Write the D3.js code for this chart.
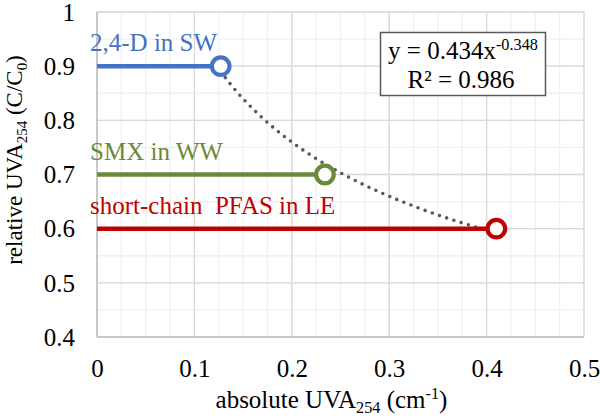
<!DOCTYPE html>
<html>
<head>
<meta charset="utf-8">
<script src="https://cdn.jsdelivr.net/npm/d3@7"></script>
<style>
  html, body { margin: 0; padding: 0; background: #fff; }
  svg text { font-family: "Liberation Serif", "Times New Roman", "DejaVu Serif", serif !important; }
</style>
</head>
<body>
<svg id="chart" width="600" height="419"></svg>
<script>
// ---- data ----
const seriesNames = ["2,4-D in SW", "SMX in WW", "short-chain\u00a0 PFAS in LE"];
const seriesX = [0.127, 0.234, 0.410];
const seriesY = [0.9, 0.7, 0.6];
const seriesColors = ["#4472C4", "#6A8A3A", "#C00000"];
const xTicks = [0, 0.1, 0.2, 0.3, 0.4, 0.5];
const yTicks = [0.4, 0.5, 0.6, 0.7, 0.8, 0.9, 1];
const fitA = 0.434, fitB = -0.348, fitR2 = 0.986;

(function () {
// ---- layout ----
const svg = d3.select("#chart");
const pL = 97, pR = 584, pT = 12, pB = 337;
const x = d3.scaleLinear().domain([0, 0.5]).range([pL, pR]);
const y = d3.scaleLinear().domain([0.4, 1]).range([pB, pT]);
const fs = 25;

// minor grid
const g = svg.append("g");
g.selectAll(".mx").data(d3.range(0, 0.5001, 0.025)).join("line")
  .attr("x1", d => x(d)).attr("x2", d => x(d)).attr("y1", pT).attr("y2", pB)
  .attr("stroke", "#f0f0f0").attr("stroke-width", 1.3);
g.selectAll(".my").data(d3.range(0.4, 1.0001, 0.05)).join("line")
  .attr("y1", d => y(d)).attr("y2", d => y(d)).attr("x1", pL).attr("x2", pR)
  .attr("stroke", "#f0f0f0").attr("stroke-width", 1.3);
// major grid
g.selectAll(".Mx").data(xTicks).join("line")
  .attr("x1", d => x(d)).attr("x2", d => x(d)).attr("y1", pT).attr("y2", pB)
  .attr("stroke", "#d9d9d9").attr("stroke-width", 1.3);
g.selectAll(".My").data(yTicks).join("line")
  .attr("y1", d => y(d)).attr("y2", d => y(d)).attr("x1", pL).attr("x2", pR)
  .attr("stroke", "#d9d9d9").attr("stroke-width", 1.3);
// axis lines
g.append("line").attr("x1", pL).attr("x2", pR).attr("y1", pB).attr("y2", pB)
  .attr("stroke", "#bfbfbf").attr("stroke-width", 1.5);
g.append("line").attr("x1", pL).attr("x2", pL).attr("y1", pT).attr("y2", pB)
  .attr("stroke", "#bfbfbf").attr("stroke-width", 1.5);

// axes (tick labels via d3 axis)
const xAxis = svg.append("g").attr("transform", `translate(0,${pB})`)
  .call(d3.axisBottom(x).tickValues(xTicks).tickSize(0).tickPadding(0).tickFormat(d3.format("~g")));
xAxis.select(".domain").remove();
xAxis.attr("font-family", null);
xAxis.selectAll("text").attr("font-size", fs)
  .attr("fill", "#000").attr("y", 40).attr("dy", 0);

const yAxis = svg.append("g").attr("transform", `translate(${pL},0)`)
  .call(d3.axisLeft(y).tickValues(yTicks).tickSize(0).tickPadding(22).tickFormat(d3.format("~g")));
yAxis.select(".domain").remove();
yAxis.attr("font-family", null);
yAxis.selectAll("text").attr("font-size", fs)
  .attr("fill", "#000").attr("dy", "0.33em");

// axis titles
const xt = svg.append("text").attr("x", x(0.25) - 9).attr("y", 408)
  .attr("text-anchor", "middle").attr("font-size", fs).attr("fill", "#000");
xt.append("tspan").text("absolute UVA");
xt.append("tspan").text("254").attr("font-size", fs * 0.65).attr("dy", 5);
xt.append("tspan").text(" (cm").attr("dy", -5);
xt.append("tspan").text("-1").attr("font-size", fs * 0.65).attr("dy", -9);
xt.append("tspan").text(")").attr("dy", 9);

const yfs = 23;
const yt = svg.append("text").attr("transform", `translate(22,160) rotate(-90)`)
  .attr("text-anchor", "middle").attr("font-size", yfs).attr("fill", "#000");
yt.append("tspan").text("relative UVA");
yt.append("tspan").text("254").attr("font-size", yfs * 0.65).attr("dy", 5);
yt.append("tspan").text(" (C/C").attr("dy", -5);
yt.append("tspan").text("0").attr("font-size", yfs * 0.65).attr("dy", 5);
yt.append("tspan").text(")").attr("dy", -5);

// trendline (power fit y = a x^b) over data range
const x0 = d3.min(seriesX), x1 = d3.max(seriesX);
const xs = d3.range(0, 101).map(i => x0 + (x1 - x0) * i / 100);
svg.append("path")
  .attr("d", d3.line().x(d => x(d)).y(d => y(fitA * Math.pow(d, fitB)))(xs))
  .attr("fill", "none").attr("stroke", "#595959").attr("stroke-width", 3.6)
  .attr("stroke-linecap", "round").attr("stroke-dasharray", "0 7.6");

// series lines
seriesNames.forEach((name, i) => {
  svg.append("line").attr("x1", x(0)).attr("x2", x(seriesX[i]))
    .attr("y1", y(seriesY[i])).attr("y2", y(seriesY[i]))
    .attr("stroke", seriesColors[i]).attr("stroke-width", 4.5);
});
seriesNames.forEach((name, i) => {
  svg.append("circle").attr("cx", x(seriesX[i])).attr("cy", y(seriesY[i])).attr("r", 8.8)
    .attr("fill", "#fff").attr("stroke", seriesColors[i]).attr("stroke-width", 4.2);
  svg.append("text").attr("x", 90).attr("y", y(seriesY[i]) - 15)
    .attr("font-size", fs).attr("fill", seriesColors[i]).text(name);
});

// equation box
svg.append("rect").attr("x", 380.5).attr("y", 32.5).attr("width", 165).attr("height", 63)
  .attr("fill", "#fff").attr("stroke", "#595959").attr("stroke-width", 1.5);
const eq = svg.append("text").attr("x", 463).attr("y", 59).attr("text-anchor", "middle")
  .attr("font-size", fs).attr("fill", "#000");
eq.append("tspan").text(`y = ${fitA}x`);
eq.append("tspan").text(`${fitB}`).attr("font-size", fs * 0.65).attr("dy", -9);
svg.append("text").attr("x", 461).attr("y", 88).attr("text-anchor", "middle")
  .attr("font-size", fs).attr("fill", "#000").text(`R² = ${fitR2}`);
})();
</script>
</body>
</html>
